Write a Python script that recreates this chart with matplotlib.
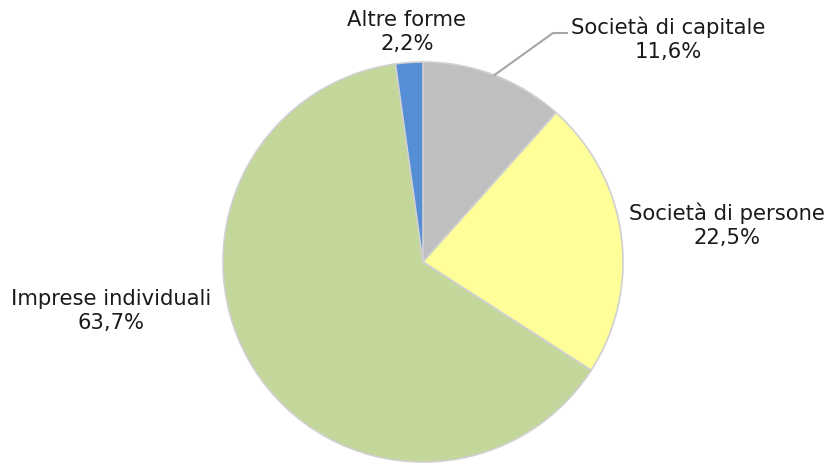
import numpy as np
import matplotlib.pyplot as plt

plt.rcParams['font.family'] = ['DejaVu Sans']

labels = ['Società di capitale', 'Società di persone', 'Imprese individuali', 'Altre forme']
values = [11.6, 22.5, 63.7, 2.2]
colors = ['#bfbfbf', '#ffff99', '#c4d79b', '#558ed5']
# label centres in data units (radius = 1)
label_pos = [(1.225, 1.115), (1.52, 0.185), (-1.56, -0.245), (-0.08, 1.15)]

fig = plt.figure(figsize=(8.31, 4.65), dpi=100)
ax = fig.add_axes([223/831, 3/465, 400/831, 400/465])

wedges, _ = ax.pie(values, colors=colors, startangle=90, counterclock=False,
                   radius=1, wedgeprops={'edgecolor': '#d0d0d0', 'linewidth': 1.2})
ax.set_xlim(-1, 1)
ax.set_ylim(-1, 1)
ax.set_aspect('equal')
ax.axis('off')

for lab, v, (x, y) in zip(labels, values, label_pos):
    txt = lab + '\n' + ('%.1f' % v).replace('.', ',') + '%'
    ax.text(x, y, txt, ha='center', va='center', fontsize=15.2, linespacing=1.25,
            color='#1a1a1a')

# leader line for Società di capitale
w = wedges[0]
mid = np.deg2rad((w.theta1 + w.theta2) / 2)
x0, y0 = np.cos(mid), np.sin(mid)
ax.plot([x0, 0.65, 0.72], [y0, 1.145, 1.145], color='#a6a6a6', lw=1.5,
        clip_on=False)

fig.savefig('out.png', dpi=100)
